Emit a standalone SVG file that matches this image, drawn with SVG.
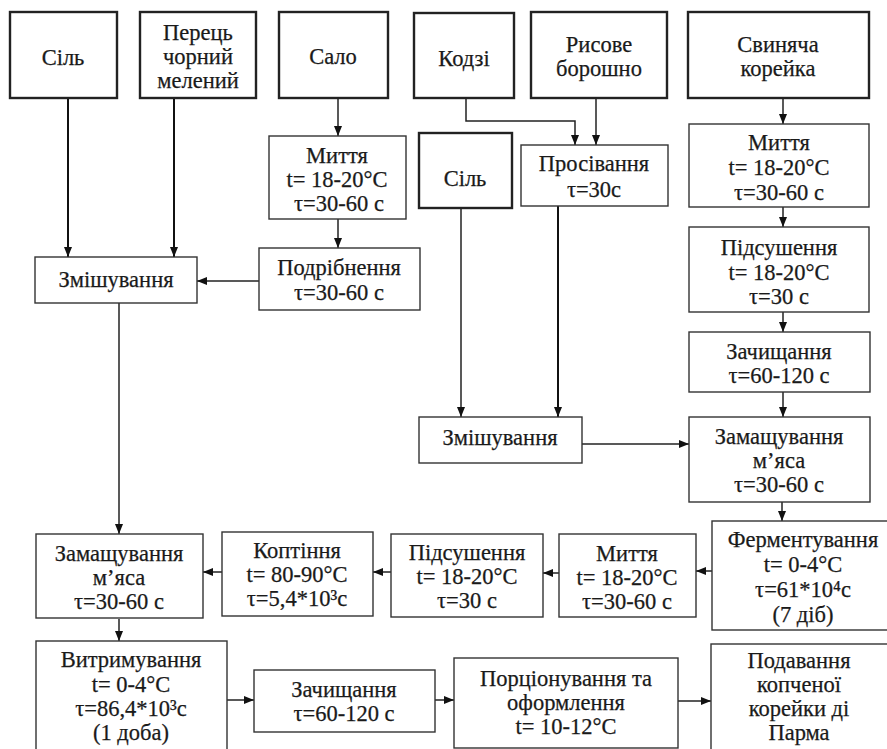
<svg xmlns="http://www.w3.org/2000/svg" width="887" height="749" viewBox="0 0 887 749">
<style>
.b{fill:#fff;stroke:#333;stroke-width:1.4}
.k{fill:#fff;stroke:#222;stroke-width:2.4}
text{font-family:"Liberation Serif","DejaVu Serif",serif;font-size:22.5px;fill:#1a1a1a;stroke:#1a1a1a;stroke-width:0.25;text-anchor:middle}
.c{fill:none;stroke:#222;stroke-width:1.5}
.t{fill:none;stroke:#111;stroke-width:2}
</style>
<defs>
<marker id="a" viewBox="0 0 10 8" refX="10" refY="4" markerWidth="10" markerHeight="8" markerUnits="userSpaceOnUse" orient="auto">
<path d="M0,0L10,4L0,8z" fill="#111"/>
</marker>
</defs>
<rect width="887" height="749" fill="#fff"/>
<g id="connectors">
<path class="t" d="M68,99V257" marker-end="url(#a)"/>
<path class="t" d="M174,99V257" marker-end="url(#a)"/>
<path class="c" d="M338,98V136" marker-end="url(#a)"/>
<path class="c" d="M338,219V248" marker-end="url(#a)"/>
<path class="c" d="M259,281H197" marker-end="url(#a)"/>
<path class="c" d="M119,303V534" marker-end="url(#a)"/>
<path class="c" d="M466,98V121H575V145" marker-end="url(#a)"/>
<path class="c" d="M596,98V145" marker-end="url(#a)"/>
<path class="c" d="M461,208V417" marker-end="url(#a)"/>
<path class="t" d="M558,206V417" marker-end="url(#a)"/>
<path class="c" d="M582,444H689" marker-end="url(#a)"/>
<path class="c" d="M783,98V124" marker-end="url(#a)"/>
<path class="c" d="M783,207V227" marker-end="url(#a)"/>
<path class="c" d="M783,312V332" marker-end="url(#a)"/>
<path class="c" d="M783,392V417" marker-end="url(#a)"/>
<path class="c" d="M782,502V521" marker-end="url(#a)"/>
<path class="c" d="M712,571H696" marker-end="url(#a)"/>
<path class="c" d="M559,573H543" marker-end="url(#a)"/>
<path class="c" d="M391,572H373" marker-end="url(#a)"/>
<path class="c" d="M222,572H203" marker-end="url(#a)"/>
<path class="c" d="M119,619V641" marker-end="url(#a)"/>
<path class="c" d="M227,700H254" marker-end="url(#a)"/>
<path class="c" d="M435,700H454" marker-end="url(#a)"/>
<path class="c" d="M678,701H711" marker-end="url(#a)"/>
</g>
<g id="sil1"><rect class="k" x="10" y="12" width="107" height="86"/><text x="63" y="65">Сіль</text></g>
<g id="perets"><rect class="k" x="140" y="12" width="116" height="86"/><text x="198" y="40">Перець</text><text x="198" y="64">чорний</text><text x="198" y="88">мелений</text></g>
<g id="salo"><rect class="k" x="279" y="12" width="109" height="86"/><text x="333" y="64">Сало</text></g>
<g id="kodzi"><rect class="k" x="414" y="13" width="100" height="85"/><text x="464" y="66">Кодзі</text></g>
<g id="rys"><rect class="k" x="531" y="12" width="136" height="86"/><text x="599" y="52">Рисове</text><text x="599" y="76">борошно</text></g>
<g id="svyn"><rect class="k" x="688" y="12" width="181" height="86"/><text x="778" y="52">Свиняча</text><text x="778" y="76">корейка</text></g>
<g id="myttia1"><rect class="b" x="269" y="136" width="137" height="83"/><text x="337" y="163">Миття</text><text x="337" y="187">t= 18-20°C</text><text x="339" y="211">τ=30-60 с</text></g>
<g id="sil2"><rect class="k" x="419" y="133" width="93" height="75"/><text x="465" y="186">Сіль</text></g>
<g id="prosiv"><rect class="b" x="521" y="145" width="147" height="61"/><text x="594" y="171">Просівання</text><text x="594" y="197">τ=30с</text></g>
<g id="myttia2"><rect class="b" x="689" y="124" width="180" height="83"/><text x="779" y="150">Миття</text><text x="779" y="175">t= 18-20°C</text><text x="779" y="200">τ=30-60 с</text></g>
<g id="pidsush1"><rect class="b" x="689" y="227" width="180" height="85"/><text x="779" y="255">Підсушення</text><text x="779" y="280">t= 18-20°C</text><text x="779" y="304">τ=30 с</text></g>
<g id="podrib"><rect class="b" x="259" y="248" width="161" height="62"/><text x="339" y="275">Подрібнення</text><text x="339" y="300">τ=30-60 с</text></g>
<g id="zmish1"><rect class="b" x="35" y="257" width="162" height="46"/><text x="116" y="287">Змішування</text></g>
<g id="zachysh1"><rect class="b" x="689" y="332" width="181" height="60"/><text x="779" y="359">Зачищання</text><text x="779" y="383">τ=60-120 с</text></g>
<g id="zmish2"><rect class="b" x="419" y="417" width="163" height="46"/><text x="500" y="445">Змішування</text></g>
<g id="zamash1"><rect class="b" x="689" y="417" width="181" height="85"/><text x="779" y="444">Замащування</text><text x="779" y="468">м’яса</text><text x="779" y="492">τ=30-60 с</text></g>
<g id="ferment"><rect class="b" x="712" y="521" width="180" height="109"/><text x="803" y="547">Ферментування</text><text x="803" y="572">t= 0-4°C</text><text x="803" y="597">τ=61*10⁴с</text><text x="803" y="622">(7 діб)</text></g>
<g id="myttia3"><rect class="b" x="559" y="534" width="137" height="83"/><text x="627" y="561">Миття</text><text x="627" y="585">t= 18-20°C</text><text x="627" y="609">τ=30-60 с</text></g>
<g id="pidsush2"><rect class="b" x="391" y="534" width="152" height="83"/><text x="467" y="560">Підсушення</text><text x="467" y="584">t= 18-20°C</text><text x="467" y="608">τ=30 с</text></g>
<g id="koptinnia"><rect class="b" x="222" y="532" width="151" height="84"/><text x="297" y="558">Коптіння</text><text x="297" y="582">t= 80-90°C</text><text x="297" y="606">τ=5,4*10³с</text></g>
<g id="zamash2"><rect class="b" x="36" y="534" width="167" height="84"/><text x="119" y="561">Замащування</text><text x="119" y="585">м’яса</text><text x="119" y="609">τ=30-60 с</text></g>
<g id="vytrym"><rect class="b" x="36" y="641" width="191" height="112"/><text x="131" y="667">Витримування</text><text x="131" y="692">t= 0-4°C</text><text x="131" y="716">τ=86,4*10³с</text><text x="131" y="740">(1 доба)</text></g>
<g id="zachysh2"><rect class="b" x="254" y="670" width="181" height="62"/><text x="344" y="697">Зачищання</text><text x="344" y="721">τ=60-120 с</text></g>
<g id="portsion"><rect class="b" x="454" y="658" width="224" height="90"/><text x="566" y="686">Порціонування та</text><text x="566" y="710">оформлення</text><text x="566" y="734">t= 10-12°C</text></g>
<g id="podav"><rect class="b" x="711" y="644" width="180" height="110"/><text x="799" y="668">Подавання</text><text x="799" y="692">копченої</text><text x="799" y="716">корейки ді</text><text x="799" y="740">Парма</text></g>
</svg>
